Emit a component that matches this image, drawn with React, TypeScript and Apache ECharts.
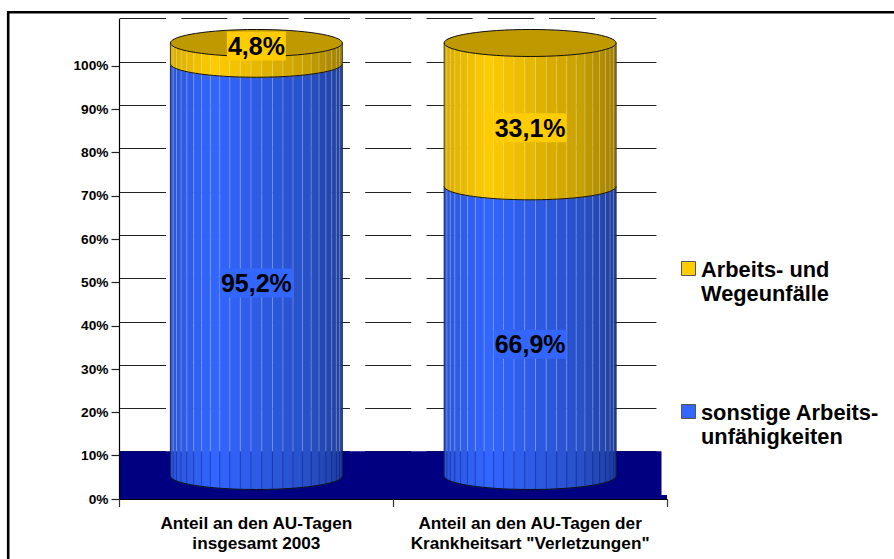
import React, { useEffect, useRef } from "react";
import * as echarts from "echarts";

// Share of sick-leave days, in percent of each group's total
const categories = ["Anteil an den AU-Tagen\ninsgesamt 2003", 'Anteil an den AU-Tagen der\nKrankheitsart "Verletzungen"'];
const otherAbsences = [95.2, 66.9];
const accidents = [4.8, 33.1];
const tickLabels = [0, 10, 20, 30, 40, 50, 60, 70, 80, 90, 100];
const gridLevels = [0, 110];
const floorLevel = [11];
const accidentsName = "Arbeits- und\nWegeunfälle";
const otherName = "sonstige Arbeits-\nunfähigkeiten";

const FONT = '"Liberation Sans", Arial, sans-serif';
const BLUE = [51, 102, 255];
const GOLD = [255, 204, 0];
const NAVY = "#000080";
const FACETS = 25;
const CYL_WIDTH_RATIO = 0.628;
const CAP_RY = 13.5;
const LIFT = 23;

// Horizontal light falloff across the cylinder, u in 0..1 from left to right
function shade(u: number) {
  const stops: [number, number][] = [[0, 0.84], [0.25, 1], [0.55, 0.88], [0.8, 0.78], [1, 0.62]];
  for (let i = 1; i < stops.length; i++) {
    if (u <= stops[i][0]) {
      const [a, av] = stops[i - 1];
      const [b, bv] = stops[i];
      return av + ((u - a) / (b - a)) * (bv - av);
    }
  }
  return 0.62;
}

const tint = (rgb: number[], k: number) => `rgb(${rgb.map((c) => Math.round(c * k)).join(",")})`;

function arcPoints(cx: number, cy: number, rx: number, ry: number, from: number, to: number, n = 6) {
  const pts: number[][] = [];
  for (let i = 0; i <= n; i++) {
    const t = from + ((to - from) * i) / n;
    pts.push([cx - rx * Math.cos(t), cy + ry * Math.sin(t)]);
  }
  return pts;
}

function makeCylinderSegment(rgb: number[], withCap: boolean) {
  return (params: any, api: any) => {
    const cat = api.value(0);
    const lo = api.value(1);
    const hi = api.value(2);
    const cx = api.coord([cat, 0])[0];
    const yLo = api.coord([cat, lo])[1] - LIFT;
    const yHi = api.coord([cat, hi])[1] - LIFT;
    const yFloor = api.coord([cat, floorLevel[0]])[1];
    const R = (api.size([1, 0])[0] * CYL_WIDTH_RATIO) / 2;
    const children: any[] = [];
    const step = Math.PI / FACETS;

    // Facets of the round front face
    for (let k = 0; k < FACETS; k++) {
      const a = k * step;
      const b = (k + 1) * step;
      const lower = arcPoints(cx, yLo, R, CAP_RY, a, b);
      const upper = arcPoints(cx, yHi, R, CAP_RY, b, a);
      const u = (1 - Math.cos((a + b) / 2)) / 2;
      const fill = tint(rgb, shade(u));
      children.push({
        type: "polygon",
        shape: { points: [...lower, ...upper] },
        style: { fill, stroke: fill, lineWidth: 0.4 },
      });
    }
    // Seams between facets: light over the white wall, dark over the floor
    for (let k = 2; k < FACETS - 1; k++) {
      const t = k * step;
      const x = cx - R * Math.cos(t);
      const bottom = yLo + CAP_RY * Math.sin(t);
      const top = yHi + CAP_RY * Math.sin(t);
      const split = Math.min(bottom, Math.max(top, yFloor));
      if (split > top) {
        children.push({
          type: "line",
          shape: { x1: x, y1: top, x2: x, y2: split },
          style: { stroke: "rgba(255,255,255,0.28)", lineWidth: 1 },
        });
      }
      if (bottom > split) {
        children.push({
          type: "line",
          shape: { x1: x, y1: split, x2: x, y2: bottom },
          style: { stroke: "rgba(0,0,128,0.28)", lineWidth: 1 },
        });
      }
    }
    // Outline: front curve and the two sides
    children.push({
      type: "polyline",
      shape: { points: arcPoints(cx, yLo, R, CAP_RY, 0, Math.PI, 48) },
      style: { stroke: "#101010", lineWidth: 1, fill: "none" },
    });
    for (const side of [-1, 1]) {
      children.push({
        type: "line",
        shape: { x1: cx + side * R, y1: yHi, x2: cx + side * R, y2: yLo },
        style: { stroke: "rgba(20,20,40,0.75)", lineWidth: 1 },
      });
    }
    // Closed lid on the topmost segment
    if (withCap) {
      children.push({
        type: "ellipse",
        shape: { cx, cy: yHi, rx: R, ry: CAP_RY },
        style: { fill: tint(rgb, 0.75), stroke: "#101010", lineWidth: 1 },
      });
    }
    // Value label, moved onto the lid when the segment is too thin to hold it
    const share = hi - lo;
    const labelY = share < 10 ? yHi + 3 : api.coord([cat, (lo + hi) / 2])[1] - 10;
    children.push({
      type: "text",
      style: {
        text: `${share.toFixed(1).replace(".", ",")}%`,
        x: cx,
        y: labelY,
        align: "center",
        verticalAlign: "middle",
        fontFamily: FONT,
        fontWeight: "bold",
        fontSize: 25,
        fill: "#000",
        backgroundColor: tint(rgb, 1),
        padding: [2, 1],
      },
    });
    return { type: "group", children };
  };
}

function legendEntry(name: string, rgb: number[], top: number) {
  return [
    {
      type: "rect",
      left: 681,
      top,
      shape: { width: 14, height: 14 },
      style: { fill: tint(rgb, 1), stroke: "#555", lineWidth: 1 },
    },
    {
      type: "text",
      left: 701,
      top: top - 4,
      style: { text: name, fontFamily: FONT, fontWeight: "bold", fontSize: 21.8, lineHeight: 24.5, fill: "#000" },
    },
  ];
}

export default function App() {
  const ref = useRef<HTMLDivElement>(null);

  useEffect(() => {
    document.body.style.margin = "0";
    const chart = echarts.init(ref.current!, undefined, { renderer: "svg" });
    chart.setOption({
      animation: false,
      backgroundColor: "#fff",
      grid: [
        { left: 119.5, right: 227, top: 19, height: 480, containLabel: false },
        // Back wall with the dashed lines, set slightly up and inwards for depth
        { left: 120, right: 237, top: 18.7, height: 476.3, containLabel: false },
      ],
      xAxis: [
        {
          type: "category",
          gridIndex: 0,
          data: categories,
          z: 5,
          axisLine: { show: true, lineStyle: { color: "#000", width: 1.2 } },
          axisTick: { show: true, length: 8, alignWithLabel: false, lineStyle: { color: "#333", width: 1.2 } },
          axisLabel: {
            interval: 0,
            margin: 14,
            fontFamily: FONT,
            fontWeight: "bold",
            fontSize: 17.2,
            lineHeight: 20,
            color: "#000",
          },
        },
        { type: "category", gridIndex: 1, data: categories, show: false },
      ],
      yAxis: [
        {
          type: "value",
          gridIndex: 0,
          min: 0,
          max: 110.85,
          z: 5,
          splitLine: { show: false },
          axisLine: { show: true, onZero: false, lineStyle: { color: "#000", width: 1.2 } },
          axisTick: { show: true, length: 8, customValues: tickLabels, lineStyle: { color: "#222", width: 1.2 } },
          axisLabel: {
            customValues: tickLabels,
            margin: 11,
            formatter: (v: number) => `${v}%`,
            fontFamily: FONT,
            fontWeight: "bold",
            fontSize: 13.7,
            color: "#000",
          },
        },
        {
          type: "value",
          gridIndex: 1,
          min: gridLevels[0],
          max: gridLevels[1],
          interval: 10,
          axisLine: { show: false },
          axisTick: { show: false },
          axisLabel: { show: false },
          splitLine: { show: true, lineStyle: { color: "#222", width: 1, type: [46, 15.3] } },
        },
      ],
      series: [
        {
          type: "custom",
          name: "floor",
          xAxisIndex: 0,
          yAxisIndex: 0,
          z: 1,
          silent: true,
          clip: false,
          data: floorLevel.map((v) => [0, v]),
          encode: { x: 0, y: 1 },
          renderItem: (params: any, api: any) => {
            const box = params.coordSys;
            const yTop = api.coord([0, api.value(1)])[1];
            const yBase = api.coord([0, 0])[1];
            return {
              type: "group",
              children: [
                {
                  type: "rect",
                  shape: { x: box.x, y: yTop, width: box.width - 5.5, height: yBase - yTop },
                  style: { fill: NAVY },
                },
                {
                  type: "rect",
                  shape: { x: box.x, y: yBase - 4, width: box.width, height: 4 },
                  style: { fill: NAVY },
                },
              ],
            };
          },
        },
        {
          type: "custom",
          name: otherName,
          xAxisIndex: 0,
          yAxisIndex: 0,
          z: 2,
          clip: false,
          data: otherAbsences.map((v, i) => [i, 0, v]),
          encode: { x: 0, y: [1, 2] },
          renderItem: makeCylinderSegment(BLUE, false),
        },
        {
          type: "custom",
          name: accidentsName,
          xAxisIndex: 0,
          yAxisIndex: 0,
          z: 3,
          clip: false,
          data: accidents.map((v, i) => [i, otherAbsences[i], otherAbsences[i] + v]),
          encode: { x: 0, y: [1, 2] },
          renderItem: makeCylinderSegment(GOLD, true),
        },
      ],
      graphic: [
        {
          type: "rect",
          left: 5.7,
          top: 9.7,
          z: -1,
          silent: true,
          shape: { width: 1000, height: 1000 },
          style: { fill: "none", stroke: "#000", lineWidth: 2.6 },
        },
        ...legendEntry(accidentsName, GOLD, 261),
        ...legendEntry(otherName, BLUE, 404),
      ],
    });
    return () => chart.dispose();
  }, []);

  return <div ref={ref} style={{ width: 894, height: 559 }} />;
}
